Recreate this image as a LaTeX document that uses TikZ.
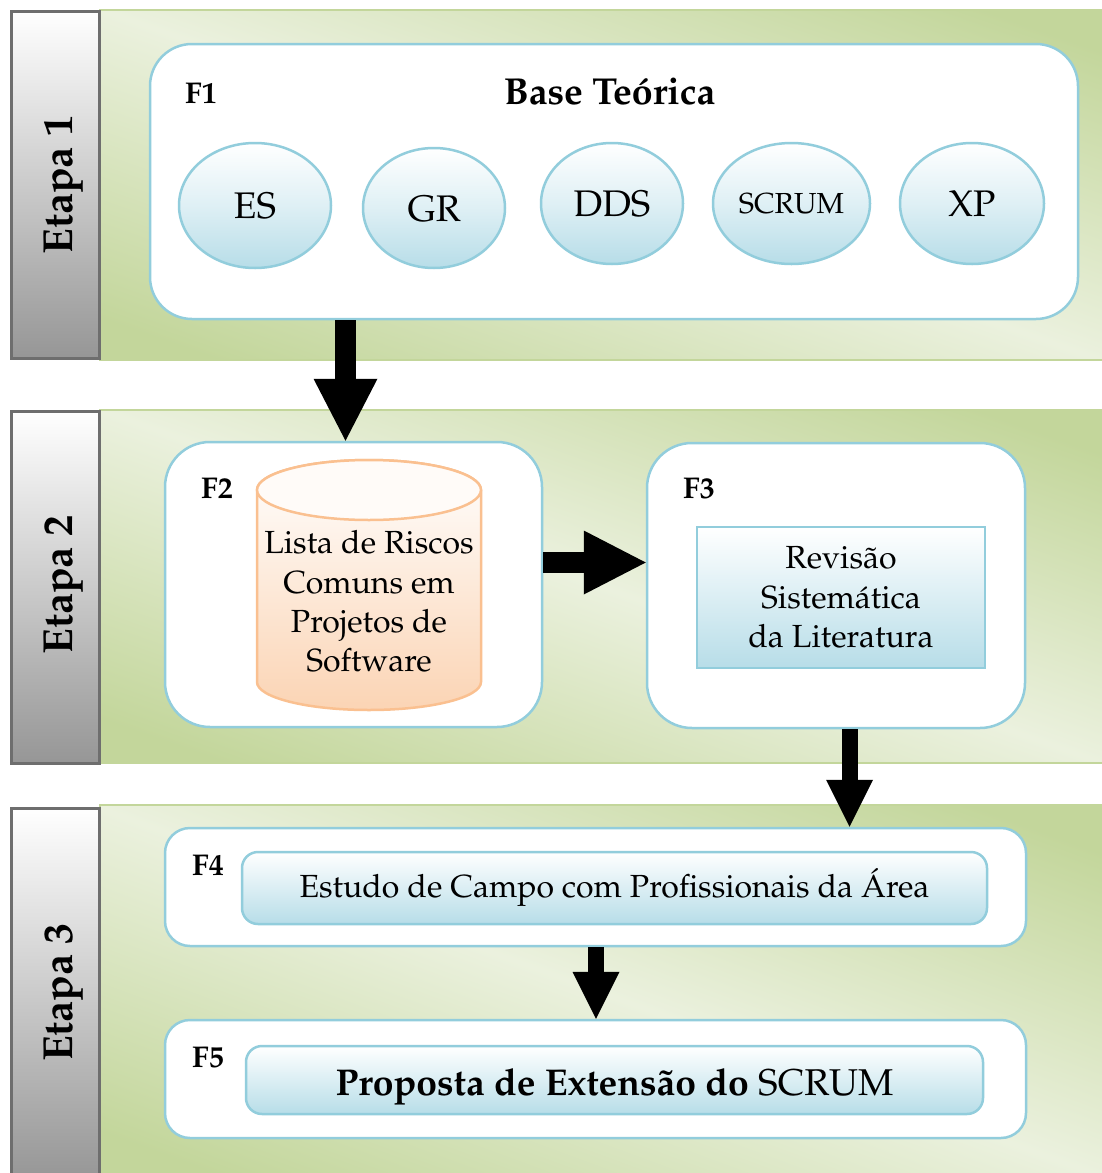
\documentclass[tikz,border=0pt]{standalone}
\usepackage[T1]{fontenc}
\renewcommand{\rmdefault}{ppl}
\usetikzlibrary{arrows.meta,shapes.geometric,calc}
\definecolor{glight}{HTML}{EBF1DE}
\definecolor{gdark}{HTML}{C3D69B}
\definecolor{bl}{HTML}{92CDDC}
\definecolor{bfill}{HTML}{B7DDE8}
\definecolor{pborder}{HTML}{FAC090}
\definecolor{pfill}{HTML}{FBD4B4}
\definecolor{ptop}{HTML}{FFFBF8}
\definecolor{gborder}{HTML}{6E6E6E}
\definecolor{gbottom}{HTML}{969696}
\pgfdeclarehorizontalshading{bandshade}{100bp}{color(0bp)=(gdark); color(22bp)=(gdark); color(50bp)=(glight); color(78bp)=(gdark); color(100bp)=(gdark)}
\newcommand\fsz[2]{\fontsize{#1}{#2}\selectfont}
\tikzset{
  band/.style={rectangle, shade, shading=bandshade, shading angle=#1, draw=gdark, line width=1.5pt, inner sep=0pt},
  band/.default=70,
  stagebox/.style={rectangle, top color=white, bottom color=gbottom, draw=gborder, line width=3pt, inner sep=0pt},
  stagelabel/.style={rotate=90, font=\fsz{42}{50}\bfseries, inner sep=0pt, text height=29pt, text depth=0pt},
  phasebox/.style={rectangle, draw=bl, line width=2.5pt, fill=white, rounded corners=#1, inner sep=0pt},
  phasebox/.default=44pt,
  flabel/.style={font=\fsz{30}{36}\bfseries, inner sep=0pt, text height=21pt, text depth=0pt},
  oval/.style={ellipse, draw=bl, line width=2.5pt, top color=white, bottom color=bfill, middle color=bfill!45, inner sep=0pt, font=\fsz{37}{44}, text height=26pt, text depth=0pt},
  innerbox/.style={rectangle, draw=bl, line width=2.5pt, top color=white, bottom color=bfill, inner sep=0pt, rounded corners=#1},
  innerbox/.default=0pt,
  bigarrow/.style={line width=21pt, -{Triangle[length=62pt,width=64pt,line width=0pt]}},
  smallarrow/.style={line width=16pt, -{Triangle[length=47pt,width=47pt,line width=0pt]}}
}
\begin{document}
\begin{tikzpicture}[x=1pt,y=-1pt]
\useasboundingbox (0,0) rectangle (1102,1173);
\fill[white] (0,0) rectangle (1102,1173);
% bands
\node[band=70.7, minimum width=1004pt, minimum height=350pt] (band1) at (602,185) {};
\node[band=70.6, minimum width=1004pt, minimum height=353pt] (band2) at (602,586.5) {};
\node[band=69.8, minimum width=1004pt, minimum height=375pt] (band3) at (602,992.5) {};
% stage boxes
\node[stagebox, minimum width=88pt, minimum height=347pt] (s1) at (55.5,185) {};
\node[stagebox, minimum width=88pt, minimum height=352pt] (s2) at (55.5,587.5) {};
\node[stagebox, minimum width=88pt, minimum height=372pt] (s3) at (55.5,994) {};
\node[stagelabel] (t1) at (57.5,185) {Etapa 1};
\node[stagelabel] (t2) at (57.5,585) {Etapa 2};
\node[stagelabel] (t3) at (57.5,992.5) {Etapa 3};
% phase boxes
\node[phasebox=42pt, minimum width=928pt, minimum height=275pt] (f1) at (614,181.5) {};
\node[phasebox=45pt, minimum width=377pt, minimum height=285pt] (f2) at (353.5,584.5) {};
\node[phasebox=45pt, minimum width=378pt, minimum height=285pt] (f3) at (836,585.5) {};
\node[phasebox=25pt, minimum width=861pt, minimum height=118pt] (f4) at (595.5,887) {};
\node[phasebox=25pt, minimum width=861pt, minimum height=118pt] (f5) at (595.5,1079) {};
% labels
\node[flabel] (l1) at (201,92.5) {F1};
\node[flabel] (l2) at (217,487.5) {F2};
\node[flabel] (l3) at (699,488) {F3};
\node[flabel] (l4) at (208,865) {F4};
\node[flabel] (l5) at (208,1057) {F5};
\node[font=\fsz{37.5}{44}\bfseries, inner sep=0pt, text height=26pt, text depth=0pt] (base) at (609.5,91) {Base Te\'orica};
% ovals
\node[oval, minimum width=152pt, minimum height=125pt] (es) at (255,205.5) {ES};
\node[oval, minimum width=142pt, minimum height=120pt] (gr) at (434,208) {GR};
\node[oval, minimum width=142pt, minimum height=121pt] (dds) at (612,203.5) {DDS};
\node[oval, minimum width=157pt, minimum height=121pt, font=\fsz{29}{34}, text height=20pt] (scrum) at (791.5,203.5) {SCRUM};
\node[oval, minimum width=144pt, minimum height=121pt] (xp) at (972,203.5) {XP};
% cylinder
\shade[top color=white, bottom color=pfill, draw=pborder, line width=2.5pt]
  (257,490) -- (257,682) arc[start angle=180, end angle=0, x radius=112, y radius=28]
  -- (481,490) arc[start angle=0, end angle=-180, x radius=112, y radius=30] -- cycle;
\node[ellipse, draw=pborder, line width=2.5pt, fill=ptop, minimum width=224pt, minimum height=60pt, inner sep=0pt] (cyltop) at (369,490) {};
\node[align=center, font=\fsz{32}{39.3}, inner sep=0pt] (cyl) at (369,601.5) {Lista de Riscos\\Comuns em\\Projetos de\\Software};
% inner boxes
\node[innerbox, minimum width=288pt, minimum height=141pt, align=center, font=\fsz{32}{39.5}] (rsl) at (841,597.5) {Revis\~ao\\Sistem\'atica\\da Literatura};
\node[innerbox=16pt, minimum width=745pt, minimum height=72pt, font=\fsz{32}{38}, text height=18pt, text depth=0pt] (campo) at (614.5,888) {Estudo de Campo com Profissionais da \'Area};
\node[innerbox=16pt, minimum width=737pt, minimum height=68pt, font=\fsz{37.3}{42}, text height=30pt, text depth=0pt] (prop) at (614.5,1080) {\textbf{Proposta de Extens\~ao do} SCRUM};
% arrows
\coordinate (ax1) at (345.5,0);
\coordinate (ay2) at (0,562.5);
\coordinate (ax3) at (849.5,0);
\coordinate (ax4) at (596,0);
\draw[bigarrow] (f1.south -| ax1) -- (f2.north -| ax1);
\draw[bigarrow] (f2.east |- ay2) -- (f3.west |- ay2);
\draw[smallarrow] (f3.south -| ax3) -- (f4.north -| ax3);
\draw[smallarrow] (f4.south -| ax4) -- (f5.north -| ax4);
\end{tikzpicture}
\end{document}
